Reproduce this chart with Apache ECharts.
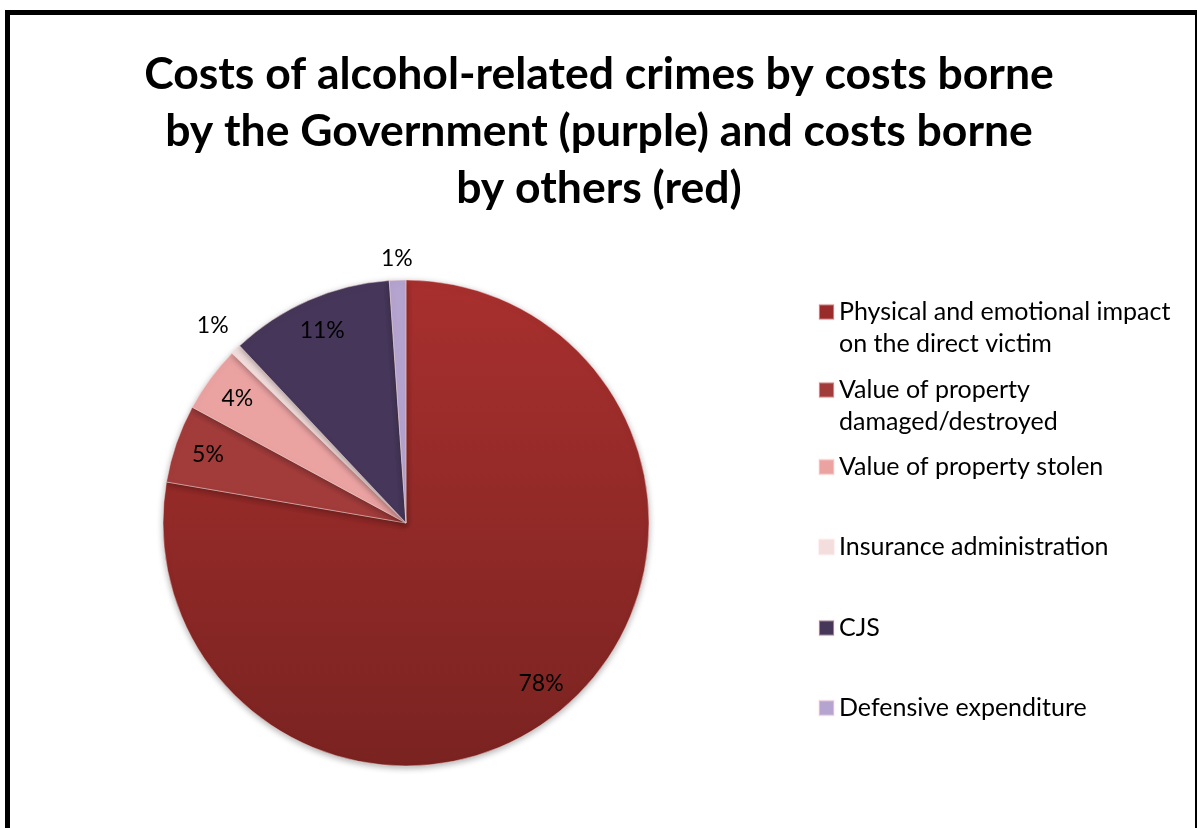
<!DOCTYPE html>
<html>
<head>
<meta charset="utf-8">
<script src="https://cdn.jsdelivr.net/npm/echarts@6/dist/echarts.min.js"></script>
<style>
html,body{margin:0;padding:0;background:#fff;}
#chart{width:1198px;height:828px;}
</style>
</head>
<body>
<div id="chart"></div>
<script>
const titleText = 'Costs of alcohol-related crimes by costs borne\nby the Government (purple) and costs borne\nby others (red)';
const categories = [
  'Physical and emotional impact\non the direct victim',
  'Value of property\ndamaged/destroyed',
  'Value of property stolen',
  'Insurance administration',
  'CJS',
  'Defensive expenditure'
];
const values = [77.7, 5.2, 4.4, 0.7, 10.9, 1.1];
const colors = ['#992b2a', '#a23c3b', '#eba3a2', '#f3dedd', '#46375a', '#b5a4d0'];
const outsideLabel = [false, false, false, true, false, true];
const legendIconCenters = [312, 390, 467, 547, 628, 708];

const FONT = 'Lato';
const cx = 406, cy = 523, R = 243;

const slices = categories.map((n, i) => ({
  name: n,
  value: values[i],
  itemStyle: {
    color: i === 0 ? {
      type: 'linear', x: 0, y: 0, x2: 0, y2: 1,
      colorStops: [{offset: 0, color: '#a8302e'}, {offset: 1, color: '#7a2321'}]
    } : colors[i]
  }
}));

const labelSlices = (pred) => categories.map((n, i) => ({
  name: n, value: values[i], label: {show: pred(i)}
}));

const legends = categories.map((n, i) => {
  const twoLine = n.indexOf('\n') >= 0;
  return {
    data: [{name: n, itemStyle: {color: colors[i]}}],
    orient: 'vertical',
    left: 818,
    top: twoLine ? legendIconCenters[i] - 48 : legendIconCenters[i] - 16,
    formatter: twoLine ? '\n{name}' : '{name}',
    itemWidth: 15,
    itemHeight: 15,
    itemGap: 0,
    padding: 0,
    icon: 'rect',
    selectedMode: false,
    textStyle: {
      fontFamily: FONT,
      fontSize: 25,
      color: '#000',
      lineHeight: 32
    }
  };
});

const labelCommon = {
  show: true,
  position: 'inside',
  formatter: '{d}%',
  fontFamily: FONT,
  fontSize: 23,
  color: '#000'
};

function labelRing(r0, r1, data) {
  return {
    type: 'pie',
    center: [cx, cy],
    radius: [r0, r1],
    startAngle: 90,
    clockwise: true,
    silent: true,
    avoidLabelOverlap: false,
    percentPrecision: 0,
    itemStyle: {color: 'rgba(0,0,0,0)', borderWidth: 0},
    label: labelCommon,
    labelLine: {show: false},
    legendHoverLink: false,
    data: data
  };
}

const chart = echarts.init(document.getElementById('chart'), null, {renderer: 'canvas'});
chart.setOption({
  backgroundColor: '#fff',
  animation: false,
  title: {
    text: titleText,
    left: 'center',
    top: 46,
    padding: 0,
    textStyle: {
      fontFamily: FONT,
      fontWeight: 'bold',
      fontSize: 44.5,
      lineHeight: 57,
      color: '#000'
    }
  },
  legend: legends,
  graphic: [
    {type: 'rect', shape: {x: 5, y: 10, width: 5, height: 818}, style: {fill: '#000'}, silent: true},
    {type: 'rect', shape: {x: 5, y: 10, width: 1192, height: 5}, style: {fill: '#000'}, silent: true},
    {type: 'rect', shape: {x: 1195, y: 10, width: 2, height: 818}, style: {fill: '#000'}, silent: true}
  ],
  series: [
    {
      type: 'pie',
      center: [cx, cy],
      radius: [0, R],
      startAngle: 90,
      clockwise: true,
      silent: true,
      avoidLabelOverlap: false,
      label: {show: false},
      labelLine: {show: false},
      itemStyle: {
        borderColor: 'rgba(255,225,225,0.45)',
        borderWidth: 1,
        shadowBlur: 6,
        shadowColor: 'rgba(0,0,0,0.3)',
        shadowOffsetY: 2
      },
      data: slices
    },
    labelRing(170, R, labelSlices(i => !outsideLabel[i])),
    labelRing(R, R + 60, labelSlices(i => outsideLabel[i] && values[i] < 1)),
    labelRing(R, R + 38, labelSlices(i => outsideLabel[i] && values[i] >= 1))
  ]
});
</script>
</body>
</html>
